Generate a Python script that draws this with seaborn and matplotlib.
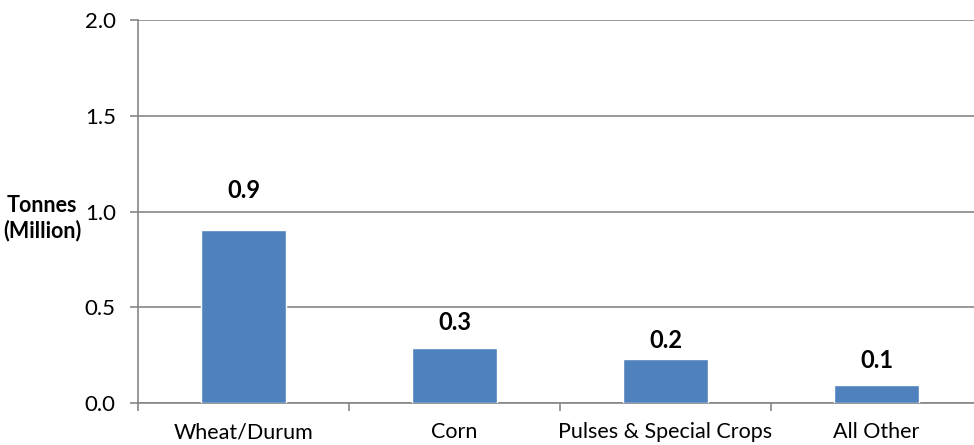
import matplotlib
matplotlib.use("Agg")
import matplotlib.pyplot as plt
import numpy as np
import pandas as pd
import seaborn as sns

# values
crops = ["Wheat/Durum", "Corn", "Pulses & Special Crops", "All Other"]
tonnes = [0.905, 0.285, 0.23, 0.093]
value_labels = ["0.9", "0.3", "0.2", "0.1"]
y_ticks = [0.0, 0.5, 1.0, 1.5, 2.0]

bar_color = "#4F81BD"
line_color = "#868686"

sns.set_style("white")
plt.rcParams["font.family"] = ["Lato", "DejaVu Sans"]
plt.rcParams["text.color"] = "black"
plt.rcParams["xtick.labelcolor"] = "black"
plt.rcParams["ytick.labelcolor"] = "black"

df = pd.DataFrame({"crop": crops, "tonnes": tonnes})

fig = plt.figure(figsize=(9.74, 4.45), dpi=100)
ax = fig.add_axes([138 / 974, 42 / 445, 844 / 974, 383 / 445])

sns.barplot(data=df, x="crop", y="tonnes", color=bar_color, width=0.4,
            saturation=1, ax=ax, zorder=3)

ax.set_ylim(0, 2.0)
ax.set_xlim(-0.5, len(crops) - 0.5)
ax.set_yticks(y_ticks)
ax.set_yticklabels([f"{v:.1f}" for v in y_ticks], fontsize=16)
ax.yaxis.grid(True, color=line_color, linewidth=1.2, zorder=0)

# category boundaries as major ticks, names on minor ticks
ax.set_xticks(np.arange(len(crops) + 1) - 0.5)
ax.set_xticklabels([])
ax.set_xticks(np.arange(len(crops)), minor=True)
ax.set_xticklabels(crops, minor=True, fontsize=15.5)
ax.tick_params(axis="x", which="major", direction="out", length=6,
               color=line_color, width=1.2, bottom=True)
ax.tick_params(axis="x", which="minor", length=0, pad=14, labelcolor="black")
ax.tick_params(axis="y", direction="out", length=6, color=line_color,
               width=1.2, left=True, pad=10, labelcolor="black")

for side in ["top", "right"]:
    ax.spines[side].set_visible(False)
for side in ["left", "bottom"]:
    ax.spines[side].set_color(line_color)
    ax.spines[side].set_linewidth(1.2)

ax.set_xlabel("")
ax.set_ylabel("")
fig.text(42 / 974, 1 - 218 / 445, "Tonnes\n(Million)", ha="center", va="center",
         multialignment="center", fontsize=15.5, fontweight="bold",
         linespacing=1.2, color="black")

offsets = [28, 19, 13, 18]
for i, (v, lab) in enumerate(zip(tonnes, value_labels)):
    ax.annotate(lab, (i, v), xytext=(0, offsets[i]), textcoords="offset points",
                ha="center", va="center", fontsize=17, fontweight="bold",
                color="black")

fig.savefig("out.png", dpi=100)
